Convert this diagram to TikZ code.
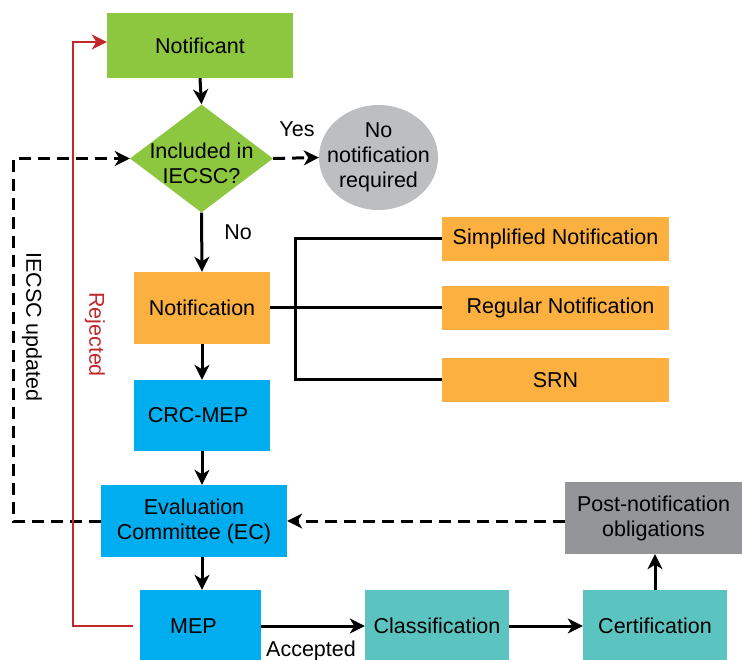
\documentclass[tikz,border=0pt]{standalone}
\usepackage{fontspec}
\setmainfont{Liberation Sans}
\usetikzlibrary{arrows.meta,shapes.geometric}
\definecolor{cgreen}{HTML}{8DC63F}
\definecolor{corange}{HTML}{FBB040}
\definecolor{cblue}{HTML}{00AEEF}
\definecolor{cteal}{HTML}{5CC4C0}
\definecolor{cgrayl}{HTML}{BCBEC0}
\definecolor{cgrayd}{HTML}{939598}
\definecolor{cred}{HTML}{C1272D}
\newcommand{\diagfont}{\fontsize{21.5}{25}\selectfont}
\begin{document}
\begin{tikzpicture}[x=1pt,y=-1pt,
  box/.style={rectangle, inner sep=0pt, align=center, font=\diagfont},
  lbl/.style={inner sep=0pt, align=center, font=\diagfont},
  tip/.style={-{Stealth[length=15pt,width=15pt,inset=4.5pt]}},
  conn/.style={line width=3pt, tip},
  plain/.style={line width=3pt},
  dashline/.style={line width=3pt, dash pattern=on 12pt off 7pt},
  redline/.style={line width=2.8pt, cred, tip}]
\useasboundingbox (0,0) rectangle (742,660);
% nodes
\node[box, fill=cgreen, minimum width=186pt, minimum height=65pt] (notif) at (200,45.5) {Notificant};
\node[diamond, fill=cgreen, inner sep=0pt, minimum width=143pt, minimum height=108pt] (dia) at (201.5,158.5) {};
\node[lbl] (diat) at (201.5,163) {Included in\\IECSC?};
\node[ellipse, fill=cgrayl, inner sep=0pt, minimum width=119pt, minimum height=105pt] (nonot) at (378.5,157.5) {};
\node[lbl] (nonott) at (378.5,157) {No\\notification\\required};
\node[box, fill=corange, minimum width=136pt, minimum height=72pt] (notn) at (202,308) {Notification};
\node[box, fill=corange, minimum width=227pt, minimum height=44pt] (simp) at (555.5,239) {Simplified Notification};
\node[box, fill=corange, minimum width=227pt, minimum height=44pt] (reg) at (555.5,308) {\hspace{10pt}Regular Notification};
\node[box, fill=corange, minimum width=227pt, minimum height=44pt] (srn) at (555.5,380) {SRN};
\node[box, fill=cblue, minimum width=136pt, minimum height=71pt] (crc) at (202,415.5) {CRC-MEP\hspace{8pt}};
\node[box, fill=cblue, minimum width=186pt, minimum height=72pt] (ec) at (194,521) {Evaluation\\Committee (EC)};
\node[box, fill=cblue, minimum width=121pt, minimum height=72pt] (mep) at (200.5,626) {MEP\hspace{14pt}};
\node[box, fill=cteal, minimum width=144pt, minimum height=72pt] (cls) at (437,626) {Classification};
\node[box, fill=cteal, minimum width=144pt, minimum height=72pt] (cert) at (655,626) {Certification};
\node[box, fill=cgrayd, minimum width=177pt, minimum height=72pt] (post) at (653.5,518) {Post-notification\\obligations};
% labels
\node[lbl] (yes) at (297,129) {Yes};
\node[lbl] (no) at (238,232) {No};
\node[lbl] (acc) at (311,651) {Accepted};
\node[lbl, rotate=-90, text=cred] (rej) at (95,334.5) {Rejected};
\node[lbl, rotate=-90] (upd) at (32,327) {IECSC updated};
% coordinates
\coordinate (bx) at (295,239);
\coordinate (lx) at (13,300);
\coordinate (rx) at (73,300);
% connectors
\draw[conn] (notif.south) -- (dia.north);
\draw[conn] (dia.south) -- (notn.north);
\draw[conn, dash pattern=on 12pt off 7pt] (dia.east) -- (nonot.west);
\draw[plain] (notn.east) -- (reg.west);
\draw[plain] (simp.west) -- (simp.west -| bx) |- (srn.west);
\draw[conn] (notn.south) -- (crc.north);
\draw[conn] (crc.south) -- (crc.south |- ec.north);
\draw[conn] (ec.south -| crc.south) -- (mep.north -| crc.south);
\draw[conn] (mep.east) -- (cls.west);
\draw[conn] (cls.east) -- (cert.west);
\draw[conn] (cert.north) -- (cert.north |- post.south);
\draw[conn, dash pattern=on 12pt off 7pt] (post.west |- ec.east) -- (ec.east);
\draw[dashline, tip] (ec.west) -| (lx) |- (dia.west);
\draw[redline, shorten <=7pt] (mep.west) -| (rx) |- ([yshift=3.5pt]notif.west);
\end{tikzpicture}
\end{document}
